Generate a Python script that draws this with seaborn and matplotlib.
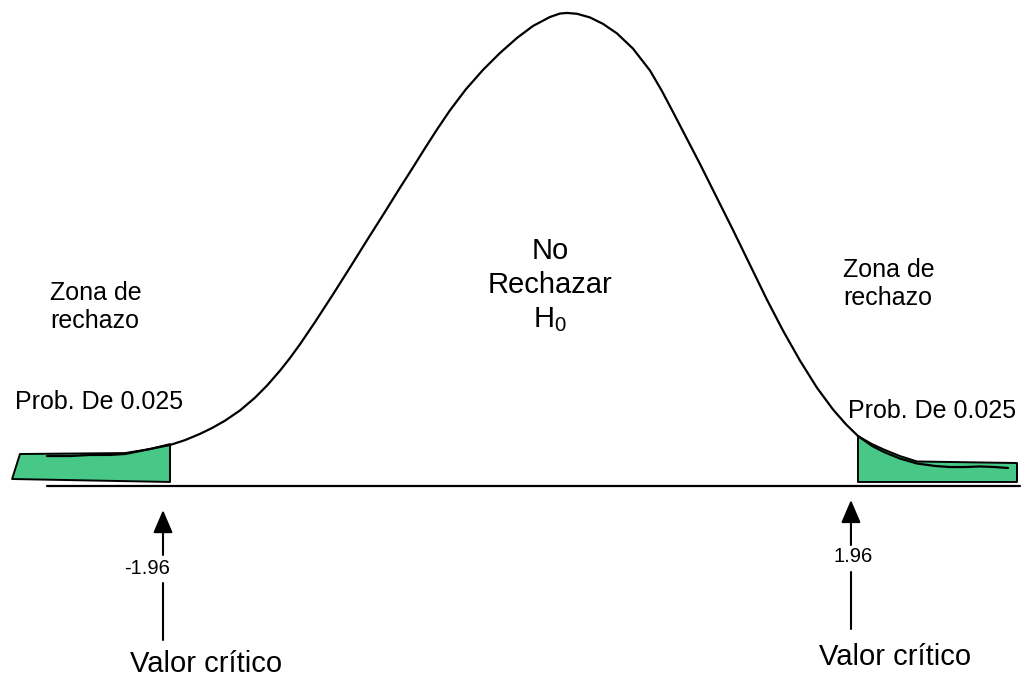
import matplotlib
matplotlib.use("Agg")
import matplotlib.pyplot as plt
import seaborn as sns
import pandas as pd

# ---- data (z units, density units) ----
curve_z = [-2.661, -2.530, -2.416, -2.302, -2.217, -2.131, -2.046, -1.960, -1.875,
           -1.789, -1.721, -1.647, -1.561, -1.476, -1.407, -1.333, -1.276, -1.219,
           -1.134, -1.031, -0.934, -0.838, -0.746, -0.650, -0.581, -0.507, -0.439,
           -0.365, -0.274, -0.177, -0.080, 0.017, 0.108, 0.205, 0.262, 0.302, 0.359,
           0.433, 0.507, 0.587, 0.678, 0.775, 0.843, 0.906, 0.980, 1.060, 1.151,
           1.248, 1.345, 1.442, 1.533, 1.630, 1.726, 1.818, 1.892, 1.960, 2.040,
           2.114, 2.199, 2.296, 2.399, 2.484, 2.570, 2.655, 2.741, 2.815]
curve_d = [0.0253, 0.0253, 0.0262, 0.0262, 0.0270, 0.0295, 0.0321, 0.0346, 0.0387,
           0.0440, 0.0489, 0.0551, 0.0638, 0.0745, 0.0848, 0.0974, 0.1081, 0.1197,
           0.1383, 0.1618, 0.1845, 0.2073, 0.2288, 0.2516, 0.2676, 0.2851, 0.3008,
           0.3170, 0.3348, 0.3511, 0.3654, 0.3781, 0.3882, 0.3958, 0.3987, 0.3992,
           0.3985, 0.3954, 0.3900, 0.3819, 0.3691, 0.3506, 0.3333, 0.3156, 0.2945,
           0.2717, 0.2447, 0.2160, 0.1865, 0.1570, 0.1311, 0.1057, 0.0830, 0.0645,
           0.0520, 0.0422, 0.0338, 0.0283, 0.0232, 0.0190, 0.0169, 0.0160, 0.0160,
           0.0165, 0.0160, 0.0152]

left_tail_z = [-2.860, -2.815, -2.217, -2.074, -1.960, -1.960]
left_tail_d = [0.0059, 0.0270, 0.0278, 0.0312, 0.0354, 0.0034]
right_tail_z = [1.960, 1.960, 2.866, 2.866, 2.296, 2.199, 2.114, 2.040]
right_tail_d = [0.0422, 0.0034, 0.0034, 0.0194, 0.0207, 0.0253, 0.0304, 0.0354]

baseline_z = [-2.661, 2.883]
baseline_d = [0.0, 0.0]

crit_values = [-1.96, 1.96]
crit_labels = ["-1.96", "1.96"]
zone_label = "Zona de\nrechazo"
prob_label = "Prob. De 0.025"
center_lines = ["No", "Rechazar", "H$_0$"]
crit_text = "Valor crítico"

# ---- style ----
sns.set_theme(style="white")
plt.rcParams["font.family"] = ["Liberation Sans", "DejaVu Sans"]
plt.rcParams["text.color"] = "black"
plt.rcParams["mathtext.fontset"] = "custom"
plt.rcParams["mathtext.rm"] = "Liberation Sans"
plt.rcParams["mathtext.it"] = "Liberation Sans"
plt.rcParams["mathtext.default"] = "regular"

GREEN = "#47C886"

fig = plt.figure(figsize=(10.29, 6.77), dpi=100)
ax = fig.add_axes([0, 0, 1, 1])
ax.set_xlim(-2.9288, 2.9345)
ax.set_ylim(-0.16118, 0.41013)
ax.axis("off")

# shaded tails
ax.fill(left_tail_z, left_tail_d, facecolor=GREEN, edgecolor="black", linewidth=1.4,
        joinstyle="round", zorder=2)
ax.fill(right_tail_z, right_tail_d, facecolor=GREEN, edgecolor="black", linewidth=1.4,
        joinstyle="round", zorder=2)

# curve
df = pd.DataFrame({"z": curve_z, "d": curve_d})
sns.lineplot(data=df, x="z", y="d", sort=False, color="black", linewidth=1.6, ax=ax,
             zorder=3, solid_joinstyle="round", solid_capstyle="round")

# baseline
sns.lineplot(x=baseline_z, y=baseline_d, color="black", linewidth=1.6, ax=ax, zorder=3)

# arrows with labels
arrow_x = [-2.00, 1.92]
tip_y = [-0.0203, -0.0118]
head_gap_y = [-0.0582, -0.0498]
label_x = [-2.091, 1.932]
label_y = [-0.0692, -0.0599]
low_top = [-0.0819, -0.0726]
low_bot = [-0.1300, -0.1207]
for i in range(2):
    ax.annotate("", xy=(arrow_x[i], tip_y[i]), xytext=(arrow_x[i], head_gap_y[i]),
                arrowprops=dict(arrowstyle="-|>,head_length=0.7,head_width=0.3",
                                color="black", lw=1.5, shrinkA=0, shrinkB=0,
                                mutation_scale=20))
    ax.plot([arrow_x[i], arrow_x[i]], [low_top[i], low_bot[i]], color="black", lw=1.5)
    ax.text(label_x[i], label_y[i], crit_labels[i], ha="center", va="center",
            fontsize=14.5, color="black")

# texts (va='baseline' aligns the last line's baseline)
ax.text(-2.644, 0.1333, zone_label, ha="left", va="baseline", fontsize=18, color="black")
ax.text(1.875, 0.1527, zone_label, ha="left", va="baseline", fontsize=18, color="black")
ax.text(-2.843, 0.0650, prob_label, ha="left", va="baseline", fontsize=18, color="black")
ax.text(1.903, 0.0574, prob_label, ha="left", va="baseline", fontsize=18, color="black")

center_base = [0.1916, 0.1629, 0.1342]
for line, yb in zip(center_lines, center_base):
    ax.text(0.205, yb, line, ha="center", va="baseline", fontsize=21, color="black")

ax.text(-1.755, -0.1570, crit_text, ha="center", va="baseline", fontsize=21, color="black")
ax.text(2.171, -0.1510, crit_text, ha="center", va="baseline", fontsize=21, color="black")

fig.savefig("out.png", dpi=100)
